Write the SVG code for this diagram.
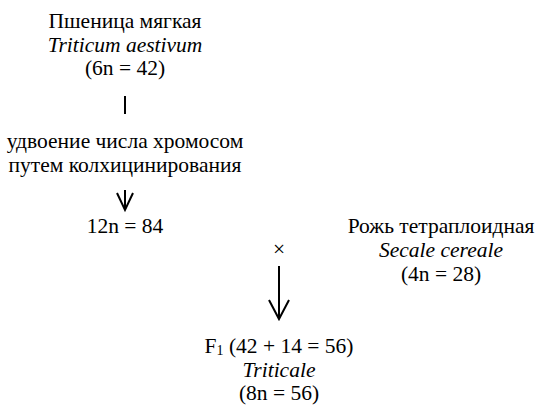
<svg xmlns="http://www.w3.org/2000/svg" width="536" height="411" viewBox="0 0 536 411">
<style>
text{font-size:21.5px;fill:#000;text-anchor:middle}
.i{font-style:italic}
.ln{stroke:#000;stroke-width:2;fill:none}
</style>
<rect width="536" height="411" fill="#fff"/>
<g font-family="Liberation Serif">
<g id="wheat">
<text x="125" y="28">Пшеница мягкая</text>
<text x="125" y="52" class="i">Triticum aestivum</text>
<text x="125" y="75">(6n = 42)</text>
</g>
<g id="doubling">
<text x="125" y="148">удвоение числа хромосом</text>
<text x="125" y="172">путем колхицинирования</text>
</g>
<g id="n12">
<text x="125" y="233">12n = 84</text>
</g>
<g id="rye">
<text x="441" y="233">Рожь тетраплоидная</text>
<text x="441" y="257" class="i">Secale cereale</text>
<text x="441" y="281">(4n = 28)</text>
</g>
<g id="cross">
<text x="279" y="256" font-size="20">×</text>
</g>
<g id="f1">
<text x="279" y="353">F<tspan font-size="14" dy="2">1</tspan><tspan dy="-2"> (42 + 14 = 56)</tspan></text>
<text x="279" y="377" class="i">Triticale</text>
<text x="279" y="400">(8n = 56)</text>
</g>
</g>
<g id="connectors">
<line class="ln" x1="125" y1="96" x2="125" y2="114"/>
<path class="ln" d="M125 190V210M117 193L125 210L133 193"/>
<path class="ln" d="M279 266V319M269 300L279 319L289 300"/>
</g>
</svg>
